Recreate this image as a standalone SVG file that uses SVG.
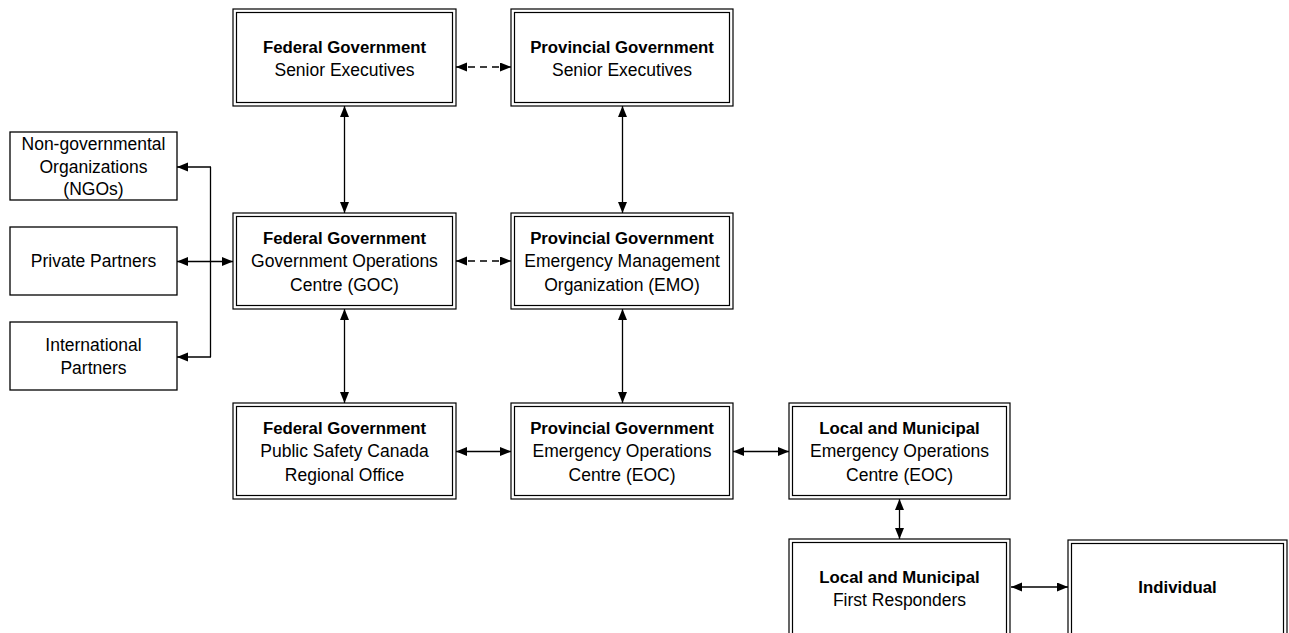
<svg xmlns="http://www.w3.org/2000/svg" width="1289" height="633" viewBox="0 0 1289 633">
<defs>
<marker id="ah" markerUnits="userSpaceOnUse" markerWidth="12" markerHeight="10" refX="11" refY="4.5" orient="auto-start-reverse" viewBox="0 0 12 10">
<path d="M0,0 L11,4.5 L0,9 Z" fill="#000"/>
</marker>
<style>
.o{fill:#fff;stroke:#000;stroke-width:1.2}
.i{fill:none;stroke:#000;stroke-width:1.2}
.s{fill:#fff;stroke:#000;stroke-width:1.3}
.c{fill:none;stroke:#000;stroke-width:1.3}
.d{fill:none;stroke:#000;stroke-width:1.3;stroke-dasharray:7 5}
text{font-family:"Liberation Sans",Arial,sans-serif;font-size:17.5px;text-anchor:middle;fill:#000}
.b{font-weight:bold;font-size:16.8px}
</style>
</defs>
<rect width="1289" height="633" fill="#fff"/>
<g id="connectors">
<line class="d" x1="456" y1="67" x2="511" y2="67" marker-start="url(#ah)" marker-end="url(#ah)"/>
<line class="d" x1="456" y1="261" x2="511" y2="261" marker-start="url(#ah)" marker-end="url(#ah)"/>
<line class="c" x1="344.5" y1="106" x2="344.5" y2="213" marker-start="url(#ah)" marker-end="url(#ah)"/>
<line class="c" x1="622.5" y1="106" x2="622.5" y2="213" marker-start="url(#ah)" marker-end="url(#ah)"/>
<line class="c" x1="344.5" y1="309" x2="344.5" y2="403" marker-start="url(#ah)" marker-end="url(#ah)"/>
<line class="c" x1="622.5" y1="309" x2="622.5" y2="403" marker-start="url(#ah)" marker-end="url(#ah)"/>
<line class="c" x1="456" y1="451.5" x2="511" y2="451.5" marker-start="url(#ah)" marker-end="url(#ah)"/>
<line class="c" x1="733" y1="451.5" x2="789" y2="451.5" marker-start="url(#ah)" marker-end="url(#ah)"/>
<line class="c" x1="899.5" y1="499" x2="899.5" y2="539" marker-start="url(#ah)" marker-end="url(#ah)"/>
<line class="c" x1="1011" y1="587" x2="1068" y2="587" marker-start="url(#ah)" marker-end="url(#ah)"/>
<line class="c" x1="177" y1="261.5" x2="233" y2="261.5" marker-start="url(#ah)" marker-end="url(#ah)"/>
<path class="c" d="M210.5,167 V357"/>
<line class="c" x1="211" y1="167" x2="177" y2="167" marker-end="url(#ah)"/>
<line class="c" x1="211" y1="357" x2="177" y2="357" marker-end="url(#ah)"/>
</g>
<g id="fed-senior">
<rect class="o" x="233" y="9" width="223" height="97"/>
<rect class="i" x="236.5" y="12.5" width="216" height="90"/>
<text class="b" x="344.5" y="53">Federal Government</text>
<text x="344.5" y="76">Senior Executives</text>
</g>
<g id="prov-senior">
<rect class="o" x="511" y="9" width="222" height="97"/>
<rect class="i" x="514.5" y="12.5" width="215" height="90"/>
<text class="b" x="622" y="53">Provincial Government</text>
<text x="622" y="76">Senior Executives</text>
</g>
<g id="fed-goc">
<rect class="o" x="233" y="213" width="223" height="96"/>
<rect class="i" x="236.5" y="216.5" width="216" height="89"/>
<text class="b" x="344.5" y="243.5">Federal Government</text>
<text x="344.5" y="267">Government Operations</text>
<text x="344.5" y="290.5">Centre (GOC)</text>
</g>
<g id="prov-emo">
<rect class="o" x="511" y="213" width="222" height="96"/>
<rect class="i" x="514.5" y="216.5" width="215" height="89"/>
<text class="b" x="622" y="243.5">Provincial Government</text>
<text x="622" y="267">Emergency Management</text>
<text x="622" y="290.5">Organization (EMO)</text>
</g>
<g id="fed-psc">
<rect class="o" x="233" y="403" width="223" height="96"/>
<rect class="i" x="236.5" y="406.5" width="216" height="89"/>
<text class="b" x="344.5" y="433.5">Federal Government</text>
<text x="344.5" y="457">Public Safety Canada</text>
<text x="344.5" y="480.5">Regional Office</text>
</g>
<g id="prov-eoc">
<rect class="o" x="511" y="403" width="222" height="96"/>
<rect class="i" x="514.5" y="406.5" width="215" height="89"/>
<text class="b" x="622" y="433.5">Provincial Government</text>
<text x="622" y="457">Emergency Operations</text>
<text x="622" y="480.5">Centre (EOC)</text>
</g>
<g id="local-eoc">
<rect class="o" x="789" y="403" width="221" height="96"/>
<rect class="i" x="792.5" y="406.5" width="214" height="89"/>
<text class="b" x="899.5" y="433.5">Local and Municipal</text>
<text x="899.5" y="457">Emergency Operations</text>
<text x="899.5" y="480.5">Centre (EOC)</text>
</g>
<g id="local-fr">
<rect class="o" x="789" y="539" width="221" height="110"/>
<rect class="i" x="792.5" y="542.5" width="214" height="110"/>
<text class="b" x="899.5" y="582.5">Local and Municipal</text>
<text x="899.5" y="605.5">First Responders</text>
</g>
<g id="individual">
<rect class="o" x="1068" y="540" width="219" height="110"/>
<rect class="i" x="1071.5" y="543.5" width="212" height="110"/>
<text class="b" x="1177.5" y="593">Individual</text>
</g>
<g id="ngo">
<rect class="s" x="10" y="132" width="167" height="68"/>
<text x="93.5" y="150">Non-governmental</text>
<text x="93.5" y="172.5">Organizations</text>
<text x="93.5" y="195">(NGOs)</text>
</g>
<g id="private">
<rect class="s" x="10" y="227" width="167" height="68"/>
<text x="93.5" y="267">Private Partners</text>
</g>
<g id="international">
<rect class="s" x="10" y="322" width="167" height="68"/>
<text x="93.5" y="351">International</text>
<text x="93.5" y="374">Partners</text>
</g>
</svg>
